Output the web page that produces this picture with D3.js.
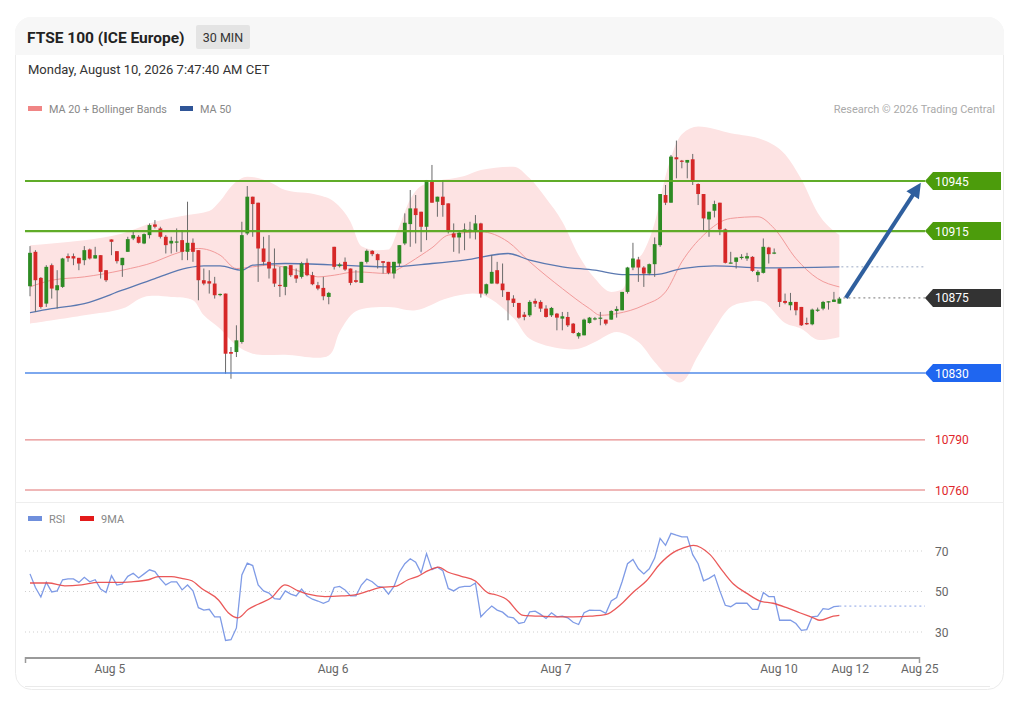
<!DOCTYPE html>
<html><head><meta charset="utf-8">
<script src="https://cdn.jsdelivr.net/npm/d3@7"></script>
<style>
body{margin:0;background:#fff;}
svg{font-family:Roboto,"Liberation Sans",Arial,sans-serif;}
</style></head><body>
<svg id="c" width="1021" height="705"></svg>
<script>
// ---------- DATA ----------
const opens=[
10882,10902.6,10887,10871.6,10894.6,10879.6,10881.6,10900,10900,10899,
10897.6,10904,10898.6,10900.6,10891.6,10910,10903,10894.6,10902.6,10910.6,
10911.6,10907.6,10912.6,10919,10916.6,10911.6,10907.6,10908.6,10909.6,10902.6,
10908,10903.6,10885.6,10885,10883.6,10877,10877.6,10842.6,10842.6,10848.6,
10913.6,10935.6,10932,10904.6,10896.6,10892.6,10882.8,10881.6,10894.6,10888.6,
10887.6,10896,10888.6,10882.6,10881,10875.6,10905.6,10894,10896.6,10892.6,
10885.6,10884,10896.6,10903.2,10901.2,10897,10896.6,10889.6,10895.6,10907.6,
10919.2,10928.6,10926.6,10917.6,10944.6,10932.6,10935.6,10931.6,10913.6,10911.2,
10914.6,10915.6,10914.6,10919.6,10877.6,10883.6,10891.6,10883.6,10878.6,10874.6,
10872,10865,10864.6,10873.2,10872.6,10868.6,10864.6,10865.6,10862.6,10863.6,
10859.6,10852,10852.6,10860,10862.4,10863,10862,10862,10867.2,10867.6,
10878.6,10893.2,10898,10893.2,10889.6,10895.2,10906.6,10936.6,10932,10959.2,
10957.2,10956,10958,10943.2,10937.2,10922,10927.2,10932,10916,10896,
10896.6,10899.2,10898.6,10899.6,10888.6,10890,10905.2,10902,10892.6,10873.2,
10870.6,10872.6,10869.6,10860,10859.2,10867.6,10868.6,10872.6,10872.6,10871.6];
const highs=[
10906,10903.6,10887.5,10894.6,10895.6,10891.6,10899,10901.6,10901.6,10899,
10906,10904.6,10905.6,10900.6,10891.6,10910,10903,10899,10911.6,10914.6,
10912.6,10913.6,10919.6,10921.6,10917.6,10912.6,10911.6,10916.6,10915.6,10932.6,
10910.6,10903.6,10892.6,10891.6,10887.6,10877.6,10877.6,10845.6,10858.6,10920.6,
10942,10935.6,10932,10911.6,10912.6,10904.6,10893.6,10894,10894.6,10892.6,
10896.6,10898.6,10890.6,10884.6,10887.6,10878.6,10905.6,10896,10899.2,10892.6,
10891.6,10896.6,10904,10903.6,10901.6,10897,10896.6,10896.6,10906.6,10925.6,
10939.6,10936.6,10926.6,10945.6,10954.6,10935.6,10945.6,10931.6,10919.6,10914.6,
10919.6,10920.6,10924.6,10920,10883.6,10900.6,10896.6,10895.6,10878.6,10876.6,
10872,10866.6,10873.6,10874.6,10873.6,10870.6,10869.6,10866,10866.6,10866.6,
10860,10854.6,10862.6,10863.6,10863.6,10866.6,10862,10867.6,10870,10878.6,
10893.6,10908,10899.6,10894,10895.6,10911.2,10937.2,10942.6,10960.6,10969.2,
10957.6,10957.6,10961.2,10943.6,10937.2,10926.6,10933.2,10932,10916.6,10902.6,
10899.2,10901.2,10902,10900,10891.6,10910.6,10905.6,10904.6,10892.6,10877.6,
10878,10872.6,10869.6,10863.2,10868.6,10869.2,10873.2,10873,10878.6,10875.6];
const lows=[
10876,10866.6,10868.6,10869.6,10874.6,10868.6,10881,10896.6,10894.6,10891.6,
10894.6,10898,10898.6,10886.6,10884.6,10900.6,10895.6,10887.6,10902.6,10909.6,
10907.6,10907.2,10910.6,10916.6,10910.6,10901.6,10901.6,10902.6,10897.6,10897.6,
10896.6,10873.6,10882.6,10877.6,10874.6,10876,10829.6,10826.6,10839.6,10847.6,
10912.6,10911.6,10884.6,10894.6,10886.6,10881.6,10875.6,10876.6,10887.6,10884,
10886.6,10888,10882.6,10879.6,10873.6,10871.2,10892,10893.2,10891.2,10882.6,
10884,10884,10895.6,10900,10892.6,10889.6,10889.2,10886.6,10893.6,10906.6,
10905.6,10907.6,10902.6,10909.6,10932,10923.6,10923.6,10913.6,10902.6,10901.6,
10903.6,10910.6,10910,10875.2,10876.6,10883.6,10883.2,10875.6,10861.6,10869.6,
10862.6,10861.6,10863.6,10869.6,10866.6,10863.2,10863.6,10855.6,10855.6,10857.6,
10853.6,10850.6,10852.6,10859.6,10861.6,10858.6,10858.6,10862,10863.2,10867.6,
10877.6,10891.6,10884.6,10881.6,10888.6,10887.6,10905.6,10930.6,10932,10946.6,
10952.6,10946.6,10942.6,10930.6,10915.2,10911.6,10923.2,10912.6,10895.6,10895.6,
10892.6,10898,10897.2,10890.6,10884.6,10889.6,10895.6,10901.2,10869.6,10871.2,
10867.6,10864.6,10858.2,10858.8,10858.6,10866.6,10867.6,10868,10872.6,10871.6];
const closes=[
10902,10885.6,10869.6,10893.6,10880.6,10882.6,10898.6,10898.8,10898.6,10895.6,
10903.6,10898.6,10900.6,10890.6,10885.6,10908.6,10897,10899,10910.2,10912.6,
10908,10913.2,10918.6,10917.6,10911.6,10906.6,10909.2,10908.8,10902.6,10908,
10902.6,10885.6,10883.6,10883.6,10876.6,10877.4,10841.6,10841.6,10849.6,10912.6,
10935.6,10931.2,10904.6,10896.6,10892.6,10883.6,10882.4,10894,10888.6,10886.6,
10895.6,10888.6,10883.2,10880.6,10876,10878,10893.6,10895,10892,10884,
10884.6,10896.6,10903.2,10901.2,10897.6,10896,10890,10896.6,10906.6,10920,
10928.6,10924.6,10917.6,10945.6,10932,10935.6,10930.6,10914.6,10911.2,10914,
10916,10915.8,10919.6,10877.6,10883.2,10890.6,10883.6,10879.6,10873.6,10872,
10863.2,10863.6,10872.6,10871.6,10868.6,10863.6,10869,10863.2,10864,10858.6,
10854,10854,10862,10863.2,10862.8,10863.2,10859.6,10867.2,10868.4,10878.6,
10893.2,10898.6,10893.2,10889.6,10895.2,10907.2,10937.2,10932,10959.6,10958,
10956.6,10957.6,10944.6,10937.2,10922.6,10926.6,10931.2,10916,10896,10896.2,
10899.2,10899.6,10900,10891.2,10890.6,10905.6,10901.2,10902.2,10872.6,10872,
10872.6,10867.6,10858.6,10859.2,10868,10868,10872.6,10873,10874,10874.6];

const ma20Idx=[0,4,10,17,23,26,31,35,38,41,44,50,53,56,60,66,68,72,74,77,83,88,92,98,103,105,108,113,117,120,124,129,134,137,141,145,149];
const ma20=[10881.6,10885.6,10887.6,10891.6,10896.6,10900.6,10904.6,10900.6,10892.6,10893.6,10894.6,10890.6,10887.6,10888.6,10890.6,10889.6,10892.6,10900.6,10905,10912.6,10914.6,10908.6,10896.6,10880.6,10868.6,10864.6,10865.6,10870.6,10878.6,10896.6,10912.6,10922.6,10923.6,10916.6,10898.6,10886.6,10881.6];
const upperIdx=[0,4,10,17,23,29,33,35,37,40,44,47,53,56,59,61,64,66,68,70,72,75,80,83,89,92,95,98,101,104,107,109,111,113,115,117,120,123,129,135,139,142,145,149];
const upperBand=[10906.6,10907.6,10909.6,10913.6,10920.6,10924.6,10927,10933,10941.6,10947.6,10944.6,10939.6,10936.6,10932.6,10920.6,10906,10903.6,10904,10918,10934,10942,10945,10948,10951.6,10953.6,10946.6,10934.6,10920.6,10900.6,10886.6,10878.6,10880,10895,10903,10920,10948,10973,10977.6,10973.6,10969.6,10961,10946,10926,10912.6];
const lowerIdx=[0,10,17,21,26,30,32,35,38,41,47,55,57,60,66,71,77,83,89,92,98,101,104,108,112,115,118,120,123,126,129,132,135,139,142,145,149];
const lowerBand=[10859.6,10864.6,10868.6,10875.6,10875.6,10873.6,10864.6,10856.6,10846.6,10841.6,10841,10840.6,10854.6,10867,10869.6,10867.6,10875,10877,10863,10850.6,10844.6,10844.6,10848.6,10854.6,10848.6,10836.6,10826.6,10824.6,10840.6,10856.6,10869.6,10872.6,10872.6,10860,10856.6,10850,10851.6];
const ma50Idx=[0,4,10,17,23,29,32,35,39,41,47,60,66,74,80,88,92,98,104,109,115,120,126,135,149];
const ma50=[10866.2,10868.6,10871.6,10879.6,10886.6,10893,10894.2,10894.2,10891.6,10894.6,10895.6,10894.2,10893.6,10895.6,10897.6,10901.6,10897.6,10893.6,10891.6,10889,10889,10892.6,10894.2,10893,10893.6];

const rsi=[58.7,52,47.3,54.5,49.8,50.3,55.8,56.2,56.2,54.5,
57,54.8,55.8,51.2,49.5,57.8,53.2,53.7,57.5,59,
56.7,58.7,60.7,59.8,56.2,53.3,54.8,54.8,50.8,53.2,
50.3,42,40.8,41.2,37.5,37.5,25.8,26.2,32,58.2,
64,62.8,53.2,50.3,49.2,46.5,46.2,50.3,48.7,47.8,
51.2,47.8,46.2,45.3,44.2,45.3,52,52.5,50.8,47.8,
47.8,53.2,56.2,54.8,52.5,52,48.7,52.5,59.5,63.7,
66.2,64.5,59.2,68.7,60.8,62,60.3,51.5,50.3,52,
52.5,52.5,54.2,37.5,40.3,42.8,40.8,39.8,37.5,37,
34.2,34.8,40,40.3,38.7,36.7,39.5,37.5,37.8,37,
34.8,33.7,39.5,40.8,40.7,40.7,39.2,45.3,47,54.8,
63.7,65.8,61.2,58.7,61.2,66.5,76.2,72.8,78.7,77.8,
77,77,68.2,63.7,55.3,56.5,58.2,50.3,43.2,42.5,
44.2,44.2,44.2,41.2,41.2,49.5,47.5,47.5,35.8,35.8,
35.8,34.2,30.8,31.2,37.5,37.8,41.5,41.2,42.5,42.8];
const rsiMaIdx=[0,3.4,6.4,9.5,12.6,15.6,18.7,21.8,23.6,26,27.9,29.8,31.6,34.7,36.5,38.3,40.2,42,44.5,46.9,49.4,51.2,54.3,57.4,59.8,62.3,64.7,67.2,69.6,71.4,73.3,75.2,77,79.4,81.9,84.4,85.3,87.7,90.8,93.9,97,100,103.1,106.1,108.6,111,113.5,116,118.4,120.3,122.1,125.2,127.6,129.5,131.9,134.4,136.8,139.3,141.7,144.2,145.4,147.9,149];
const rsiMa=[54.2,54.2,52.8,53.3,54.5,54.5,54.8,55.8,57.3,57.3,56.5,55.3,51.5,45.8,39.5,37,41.2,43.7,47,53.3,50.3,48.7,47.5,47.8,48.3,50.3,52,52.5,55.8,57.5,60.3,62,59.5,57.5,55.3,49.2,48.7,46.2,38.2,37.8,37.5,37.5,37.8,38.7,43.2,49.5,55.3,63.7,69.2,71.5,72.8,68.2,59.8,53.7,49.2,45.3,44.2,42,39.5,37,35.8,37.8,38.2];

const levelValues=[10945,10915,10875,10830,10790,10760];
const levelKinds=["res","res","last","sup","red","red"];
const rsiTicks=[70,50,30];
const xTickLabels=["Aug 5","Aug 6","Aug 7","Aug 10","Aug 12","Aug 25"];
const xTickIdx=[14.7,55.8,96.8,137.9,151,163.8];
const arrowFrom=[150.2,10875];
const arrowTo=[164,10944];

// ---------- LAYOUT ----------
const svg=d3.select('#c');
const L=25,R=925;
const x=d3.scaleLinear().domain([0,165]).range([30,30+165*5.432]);
const y=d3.scaleLinear().domain([10760,10945]).range([490,181]);
const yr=d3.scaleLinear().domain([30,70]).range([632,551]);

// card
const defs=svg.append('defs');
defs.append('clipPath').attr('id','card').append('rect').attr('x',15).attr('y',17).attr('width',989).attr('height',673).attr('rx',16);
svg.append('rect').attr('x',15.5).attr('y',17.5).attr('width',988).attr('height',672).attr('rx',16).attr('fill','#fff').attr('stroke','#ececec');
svg.append('rect').attr('clip-path','url(#card)').attr('x',15).attr('y',17).attr('width',989).attr('height',38).attr('fill','#f7f7f7');
svg.append('line').attr('x1',15).attr('x2',1004).attr('y1',502.5).attr('y2',502.5).attr('stroke','#eeeeee');
svg.append('line').attr('x1',25).attr('x2',990).attr('y1',686.5).attr('y2',686.5).attr('stroke','#eaeaea');

// header
svg.append('text').attr('x',27).attr('y',43).attr('font-size',15.5).attr('font-weight','bold').attr('fill','#222').text('FTSE 100 (ICE Europe)');
svg.append('rect').attr('x',196).attr('y',25).attr('width',54).attr('height',24).attr('fill','#e4e4e4').attr('rx',2);
svg.append('text').attr('x',223).attr('y',42).attr('font-size',12.5).attr('text-anchor','middle').attr('fill','#333').text('30 MIN');
svg.append('text').attr('x',28).attr('y',74).attr('font-size',13).attr('fill','#333').text('Monday, August 10, 2026 7:47:40 AM CET');

// legends
svg.append('rect').attr('x',28).attr('y',106).attr('width',14).attr('height',5).attr('fill','#f08585');
svg.append('text').attr('x',49).attr('y',113).attr('font-size',10.8).attr('fill','#888').text('MA 20 + Bollinger Bands');
svg.append('rect').attr('x',180).attr('y',106).attr('width',13).attr('height',5).attr('fill','#2f5597');
svg.append('text').attr('x',200).attr('y',113).attr('font-size',10.8).attr('fill','#888').text('MA 50');
svg.append('text').attr('x',995).attr('y',113).attr('font-size',11).attr('fill','#aaa').attr('text-anchor','end').text('Research © 2026 Trading Central');

svg.append('rect').attr('x',28).attr('y',516).attr('width',14).attr('height',5).attr('fill','#6f8fdc');
svg.append('text').attr('x',49).attr('y',523).attr('font-size',11).attr('fill','#888').text('RSI');
svg.append('rect').attr('x',80).attr('y',516).attr('width',14).attr('height',5).attr('fill','#e31a1a');
svg.append('text').attr('x',101).attr('y',523).attr('font-size',11).attr('fill','#888').text('9MA');

const g=svg.append('g');
const lineS=d3.line().curve(d3.curveMonotoneX);
const pts=(idx,vals)=>idx.map((d,k)=>[x(d),y(vals[k])]);

// bollinger fill: upper band forward, lower band backward
const upPath=lineS(pts(upperIdx,upperBand));
const loRev=d3.line().curve(d3.curveCatmullRom.alpha(0.5))(pts(lowerIdx,lowerBand).reverse());
g.append('path').attr('d',upPath+'L'+loRev.slice(1)+'Z').attr('fill','#fde3e3');

// MA lines
g.append('path').attr('d',lineS(pts(ma20Idx,ma20))).attr('fill','none').attr('stroke','#f29a9a').attr('stroke-width',1);
g.append('path').attr('d',lineS(pts(ma50Idx,ma50))).attr('fill','none').attr('stroke','#5a78b0').attr('stroke-width',1.3);
g.append('line').attr('x1',x(149)+2).attr('x2',R).attr('y1',y(ma50[ma50.length-1])).attr('y2',y(ma50[ma50.length-1]))
 .attr('stroke','#9aa8c4').attr('stroke-dasharray','2,3');

// candles
const candles=opens.map((o,i)=>({i,o,h:highs[i],l:lows[i],c:closes[i]}));
g.selectAll('line.wk').data(candles).join('line').attr('class','wk')
 .attr('x1',d=>x(d.i)).attr('x2',d=>x(d.i)).attr('y1',d=>y(d.h)).attr('y2',d=>y(d.l))
 .attr('stroke','#6a6a6a').attr('stroke-width',1);
g.selectAll('rect.bd').data(candles).join('rect').attr('class','bd')
 .attr('x',d=>x(d.i)-1.9).attr('width',3.8)
 .attr('y',d=>y(Math.max(d.o,d.c)))
 .attr('height',d=>Math.max(1.2,Math.abs(y(d.o)-y(d.c))))
 .attr('fill',d=>d.c>=d.o?'#2d8a23':'#d62828');

// levels
const lvlColor={res:'#58a81e',last:'#333333',sup:'#4a86e8',red:'#e06a6a'};
const boxColor={res:'#4c9c0c',last:'#333333',sup:'#1f66f0'};
levelValues.forEach((v,k)=>{
  const kind=levelKinds[k], yy=y(v);
  if(kind==='last'){
    g.append('line').attr('x1',x(149)+4).attr('x2',R).attr('y1',yy).attr('y2',yy).attr('stroke','#777').attr('stroke-dasharray','2,3');
  } else {
    g.append('line').attr('x1',L).attr('x2',R).attr('y1',yy).attr('y2',yy)
     .attr('stroke',lvlColor[kind]).attr('stroke-width',kind==='res'?2.2:(kind==='sup'?1.5:1)).attr('opacity',0.95);
  }
  if(kind==='red'){
    g.append('text').attr('x',935).attr('y',yy+4.5).attr('font-size',12).attr('fill','#e0262b').text(v);
  } else {
    g.append('path').attr('d',`M${R},${yy} L${R+8},${yy-9} L1001,${yy-9} L1001,${yy+9} L${R+8},${yy+9} Z`).attr('fill',boxColor[kind]);
    g.append('text').attr('x',935).attr('y',yy+4.5).attr('font-size',12).attr('fill','#fff').text(v);
  }
});

// arrow
{
  const x1=x(arrowFrom[0]),y1=y(arrowFrom[1]),x2=x(arrowTo[0]),y2=y(arrowTo[1]);
  const dx=x2-x1,dy=y2-y1,len=Math.hypot(dx,dy),ux=dx/len,uy=dy/len;
  const hl=15,hw=7.5;
  const bx=x2-ux*hl,by=y2-uy*hl;
  g.append('line').attr('x1',x1).attr('y1',y1).attr('x2',bx+ux*2).attr('y2',by+uy*2).attr('stroke','#2f5f9e').attr('stroke-width',4);
  g.append('path').attr('d',`M${x2},${y2} L${bx-uy*hw},${by+ux*hw} L${bx+uy*hw},${by-ux*hw} Z`).attr('fill','#2f5f9e');
}

// RSI panel
rsiTicks.forEach(t=>{
  svg.append('line').attr('x1',L).attr('x2',R).attr('y1',yr(t)).attr('y2',yr(t)).attr('stroke','#cfcfcf').attr('stroke-dasharray','1,3');
  svg.append('text').attr('x',935).attr('y',yr(t)+4.5).attr('font-size',12).attr('fill','#666').text(t);
});
const rline=d3.line().x((d,i)=>x(i)).y(d=>yr(d));
svg.append('path').attr('d',rline(rsi)).attr('fill','none').attr('stroke','#7f9be6').attr('stroke-width',1.3);
svg.append('line').attr('x1',x(149)).attr('x2',R).attr('y1',yr(rsi[rsi.length-1])).attr('y2',yr(rsi[rsi.length-1]))
 .attr('stroke','#8aa2e6').attr('stroke-dasharray','2,3');
svg.append('path').attr('d',d3.line().curve(d3.curveMonotoneX)(rsiMaIdx.map((d,k)=>[x(d),yr(rsiMa[k])])))
 .attr('fill','none').attr('stroke','#e84646').attr('stroke-width',1.3).attr('opacity',0.9);

// x axis
svg.append('line').attr('x1',L).attr('x2',920).attr('y1',658).attr('y2',658).attr('stroke','#9a9a9a').attr('stroke-width',2);
svg.append('line').attr('x1',L+0.5).attr('x2',L+0.5).attr('y1',657).attr('y2',663).attr('stroke','#9a9a9a').attr('stroke-width',1.5);
svg.append('line').attr('x1',919.5).attr('x2',919.5).attr('y1',657).attr('y2',663).attr('stroke','#9a9a9a').attr('stroke-width',1.5);
xTickLabels.forEach((t,k)=>{
  svg.append('text').attr('x',x(xTickIdx[k])).attr('y',673).attr('font-size',12).attr('fill','#666').attr('text-anchor','middle').text(t);
});
</script>
</body></html>
